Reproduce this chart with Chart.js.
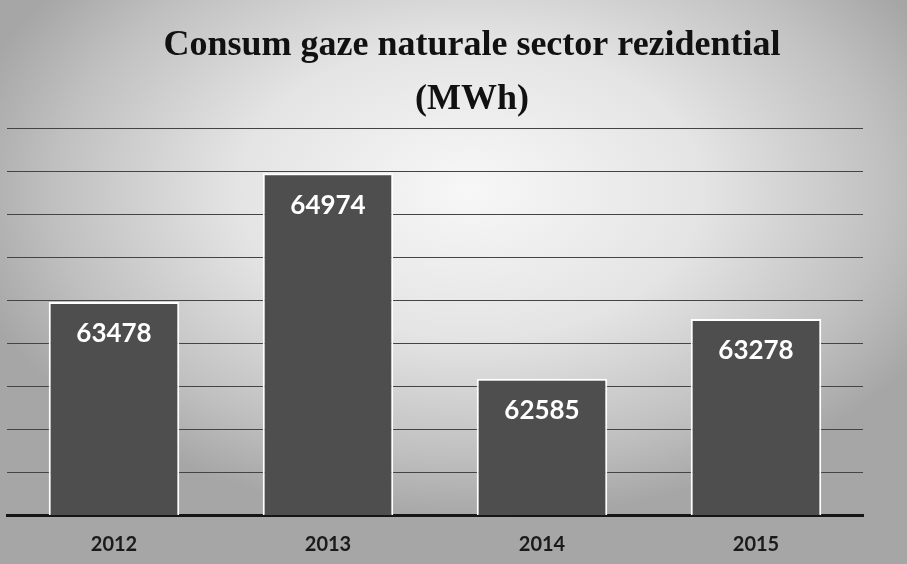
<!DOCTYPE html>
<html lang="ro">
<head>
  <meta charset="UTF-8">
  <title>Consum gaze naturale sector rezidential</title>
  <script src="https://cdn.jsdelivr.net/npm/chart.js"></script>
  <style>
    html, body {
      margin: 0;
      width: 907px;
      height: 564px;
      overflow: hidden;
    }
    body {
      background: radial-gradient(ellipse 520px 330px at 470px 190px, #f7f7f7 0%, #e4e4e4 45%, #c0c0c0 80%, #a6a6a6 100%);
    }
    .wrap {
      position: relative;
      width: 907px;
      height: 564px;
    }
  </style>
</head>
<body>
  <div class="wrap">
    <canvas id="gasChart" width="907" height="564"></canvas>
  </div>

  <script>
    const years = ['2012', '2013', '2014', '2015'];
    const consumption = [63478, 64974, 62585, 63278];
    const titleLines = ['Consum gaze naturale sector rezidential', '(MWh)'];
    const yMin = 61000;
    const yMax = 65500;
    const yStep = 500;

    // title sits a bit right of centre in the original, so it is drawn by hand
    const chartTitle = {
      id: 'chartTitle',
      afterDraw(chart) {
        const ctx = chart.ctx;
        ctx.save();
        ctx.font = 'bold 36px "Liberation Serif", serif';
        ctx.fillStyle = '#111111';
        ctx.textAlign = 'center';
        ctx.textBaseline = 'middle';
        titleLines.forEach((line, i) => {
          ctx.fillText(line, 472, 46 + i * 54);
        });
        ctx.restore();
      }
    };

    // white value labels drawn inside the top of each bar
    const barValues = {
      id: 'barValues',
      afterDatasetsDraw(chart) {
        const ctx = chart.ctx;
        const meta = chart.getDatasetMeta(0);
        ctx.save();
        ctx.font = 'bold 26px Lato, sans-serif';
        ctx.fillStyle = '#ffffff';
        ctx.textAlign = 'center';
        ctx.textBaseline = 'middle';
        meta.data.forEach((bar, i) => {
          ctx.fillText(String(consumption[i]), bar.x, bar.y + 32);
        });
        ctx.restore();
      }
    };

    const ctx = document.getElementById('gasChart').getContext('2d');
    new Chart(ctx, {
      type: 'bar',
      data: {
        labels: years,
        datasets: [{
          label: 'Consum (MWh)',
          data: consumption,
          backgroundColor: '#4e4e4e',
          borderColor: '#ffffff',
          borderWidth: 2,
          borderSkipped: 'bottom',
          categoryPercentage: 1,
          barPercentage: 0.61
        }]
      },
      options: {
        responsive: false,
        animation: false,
        layout: {
          padding: { left: 7, right: 44, top: 128, bottom: 0 }
        },
        plugins: {
          legend: { display: false },
          tooltip: { enabled: false },
          title: { display: false }
        },
        scales: {
          x: {
            grid: { display: false, drawTicks: false, tickLength: 0 },
            border: { display: true, color: '#151515', width: 3 },
            ticks: {
              color: '#1a1a1a',
              padding: 18,
              font: { family: 'Lato', size: 20, weight: 'bold' }
            },
            afterFit(scale) {
              scale.height = 49;
            }
          },
          y: {
            min: yMin,
            max: yMax,
            ticks: { stepSize: yStep, display: false },
            border: { display: false },
            grid: { color: '#444444', lineWidth: 1, drawTicks: false }
          }
        }
      },
      plugins: [barValues, chartTitle]
    });
  </script>
</body>
</html>
